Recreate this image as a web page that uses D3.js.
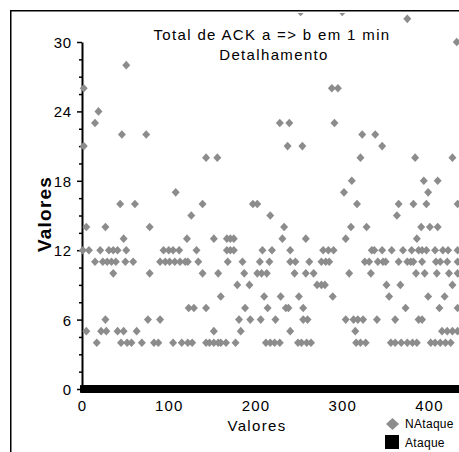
<!DOCTYPE html>
<html><head><meta charset="utf-8">
<script src="https://cdn.jsdelivr.net/npm/d3@7"></script>
<style>
body{margin:0;background:#fff}
text{font-family:Arial,"Liberation Sans",sans-serif;fill:#000}
</style>
</head><body>
<svg id="chart" width="459" height="452"></svg>
<script>
// ---- data ----
const titleLines = ["Total de ACK a => b em 1 min", "Detalhamento"];
const yTickValues = [0, 6, 12, 18, 24, 30];
const xTickValues = [0, 100, 200, 300, 400];
const seriesNames = ["NAtaque", "Ataque"];

// NAtaque: value level -> sample indices at that level
const rowValues = [4, 5, 6, 7, 8, 9, 10, 11, 12, 13, 14, 15, 16, 17, 18, 20, 21, 22, 23, 24, 26, 28, 30, 32, 32.6];
const rowSamples = [
  [17,45,52,57,69,83,88,105,115,122,127,143,147,152,157,160,166,177,212,217,222,228,249,253,259,264,316,321,327,356,361,368,375,381,386,402,407,413,419,425],
  [5,22,28,41,48,63,152,183,240,315,415,421,427,433],
  [27,76,90,181,194,206,223,255,260,304,313,318,324,340,361,388,392],
  [123,129,143,188,214,235,238,255,373,412,433],
  [160,210,229,250,289,354,399,418],
  [179,193,271,276,280,351,367,427],
  [36,78,139,157,187,202,207,213,245,258,267,308,333,385,395,409,423,433],
  [15,24,29,34,39,50,59,90,96,101,107,113,119,122,134,168,185,205,216,240,246,262,276,281,285,326,331,341,347,350,365,375,379,382,392,408,413,421,433],
  [1,8,21,31,36,41,51,94,100,105,112,132,167,171,175,208,219,240,278,284,290,334,337,346,357,370,380,388,392,397,407,416,422,433],
  [48,121,152,167,171,175,231,258,304,386],
  [5,27,78,233,310,328,391,401,410],
  [126,217,363],
  [44,61,139,197,202,317,365,382,397,433],
  [108,302,399],
  [311,394,410],
  [143,156,321,384,427],
  [2,237,254,346],
  [46,74,323,338],
  [15,228,239,291],
  [19],
  [2,288,295],
  [51],
  [432],
  [375],
  [252,300]
];

// Ataque: every sample sits at 0
const ataqueFirstSample = 0, ataqueLastSample = 440, ataqueValue = 0;

// ---- drawing ----
const svg = d3.select("#chart");
svg.append("rect").attr("width", 459).attr("height", 452).attr("fill", "#fff");

const x = d3.scaleLinear().domain([0, 400]).range([82, 429]);
const y = d3.scaleLinear().domain([0, 30]).range([389, 42]);

// outer frame
svg.append("line").attr("x1", 10.75).attr("x2", 10.75).attr("y1", 10).attr("y2", 452)
  .attr("stroke", "#000").attr("stroke-width", 1.5);
svg.append("line").attr("x1", 10).attr("x2", 459).attr("y1", 10.75).attr("y2", 10.75)
  .attr("stroke", "#000").attr("stroke-width", 1.5);

svg.append("clipPath").attr("id", "plotclip")
  .append("rect").attr("x", 70).attr("y", 13).attr("width", 389).attr("height", 390);

// y axis
const minorTicks = d3.range(0, 30.01, 1.5).filter(v => v % 6 !== 0);
const yMinor = svg.append("g").attr("transform", "translate(82,0)")
  .call(d3.axisLeft(y).tickValues(minorTicks).tickSize(3).tickSizeOuter(0).tickFormat(""));
yMinor.select(".domain").remove();
yMinor.selectAll("line").attr("stroke-width", 1.5);

const yAx = svg.append("g").attr("transform", "translate(82,0)")
  .call(d3.axisLeft(y).tickValues(yTickValues).tickSize(5).tickSizeOuter(0).tickPadding(5));
yAx.select(".domain").attr("stroke-width", 2);
yAx.selectAll("line").attr("stroke-width", 1.5);
yAx.selectAll("text").attr("font-size", 15).attr("font-family", "Arial, 'Liberation Sans', sans-serif")
  .attr("letter-spacing", "0.8px").attr("dy", "0.36em");

// x axis labels
const xAx = svg.append("g").attr("transform", `translate(0,${y(0)})`)
  .call(d3.axisBottom(x).tickValues(xTickValues).tickSize(0).tickPadding(11));
xAx.select(".domain").remove();
xAx.selectAll("text").attr("font-size", 15).attr("font-family", "Arial, 'Liberation Sans', sans-serif")
  .attr("letter-spacing", "1.2px");

// Ataque series (black squares at 0)
const plot = svg.append("g").attr("clip-path", "url(#plotclip)");
const ataqueSamples = d3.range(ataqueFirstSample, ataqueLastSample + 1);
plot.append("g").selectAll("rect").data(ataqueSamples).join("rect")
  .attr("x", d => x(d) - 2).attr("y", y(ataqueValue) - 3.8)
  .attr("width", 4).attr("height", 7.6).attr("fill", "#000");

// NAtaque series (grey diamonds)
const pts = [];
rowValues.forEach((v, i) => rowSamples[i].forEach(s => pts.push({s, v})));
const diamond = "M0,-4.3L4,0L0,4.3L-4,0Z";
plot.append("g").selectAll("path").data(pts).join("path")
  .attr("d", diamond)
  .attr("transform", d => `translate(${x(d.s)},${y(d.v)})`)
  .attr("fill", "#8c8c8c");

// titles
svg.append("text").attr("x", 272).attr("y", 40).attr("text-anchor", "middle")
  .attr("font-size", 15).attr("letter-spacing", "1.35px").text(titleLines[0]);
svg.append("text").attr("x", 274).attr("y", 60).attr("text-anchor", "middle")
  .attr("font-size", 15).attr("letter-spacing", "1.35px").text(titleLines[1]);

// axis titles
svg.append("text").attr("transform", "translate(51,214) rotate(-90)").attr("text-anchor", "middle")
  .attr("font-size", 19).attr("font-weight", "bold").attr("letter-spacing", "1.2px").text("Valores");
svg.append("text").attr("x", 257).attr("y", 431).attr("text-anchor", "middle")
  .attr("font-size", 15).attr("letter-spacing", "1.35px").text("Valores");

// legend
const lg = svg.append("g");
lg.append("path").attr("d", "M0,-6L6.5,0L0,6L-6.5,0Z").attr("transform", "translate(392.5,424)").attr("fill", "#8c8c8c");
lg.append("text").attr("x", 405).attr("y", 428).attr("font-size", 12).attr("letter-spacing", "0.3px").text(seriesNames[0]);
lg.append("rect").attr("x", 385).attr("y", 435).attr("width", 14).attr("height", 14).attr("fill", "#000");
lg.append("text").attr("x", 405).attr("y", 447).attr("font-size", 12).attr("letter-spacing", "0.3px").text(seriesNames[1]);
</script>
</body></html>
